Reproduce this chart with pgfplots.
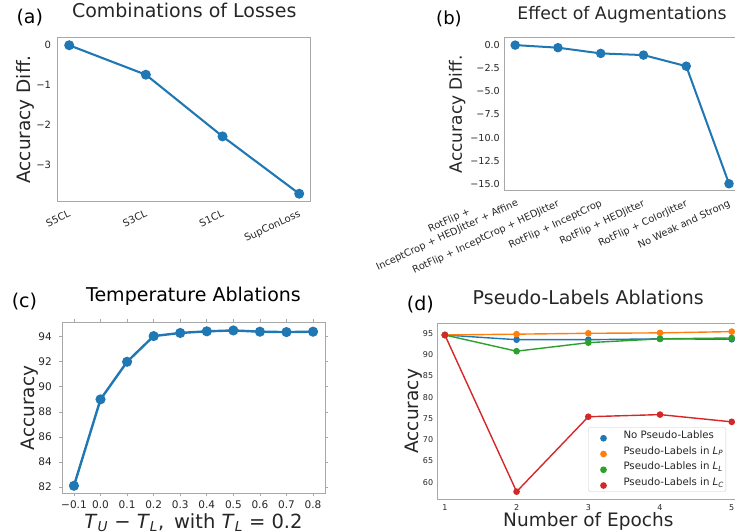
\documentclass[border=0pt]{standalone}
\usepackage{pgfplots}
\pgfplotsset{compat=1.18}
\usepackage{fontspec}
\setmainfont{DejaVu Sans}
\definecolor{tabblue}{HTML}{1F77B4}
\definecolor{taborange}{HTML}{FF7F0E}
\definecolor{tabgreen}{HTML}{2CA02C}
\definecolor{tabred}{HTML}{D62728}
\definecolor{spine}{HTML}{A8A8A8}
\definecolor{txt}{HTML}{262626}
\newcommand{\fs}[2]{\fontsize{#1}{#2}\selectfont}
\newcommand{\Ts}[1]{\textit{T}\textsubscript{\textit{#1}}}
\newcommand{\Ls}[1]{\textit{L}\textsubscript{\textit{#1}}}
\pgfplotstableread{
x y
0 0
1 -0.74
2 -2.29
3 -3.73
}\losses
\pgfplotstableread{
x y
0 0.0
1 -0.28
2 -0.90
3 -1.08
4 -2.28
5 -15.0
}\augs
\pgfplotstableread{
x y
-0.1 82.1
0.0 89.0
0.1 92.0
0.2 94.05
0.3 94.3
0.4 94.43
0.5 94.5
0.6 94.4
0.7 94.37
0.8 94.4
}\temps
\pgfplotstableread{
x nopl lp ll lc
1 94.6 94.6 94.6 94.6
2 93.5 94.8 90.8 57.8
3 93.5 95.0 92.8 75.4
4 93.7 95.1 93.7 75.9
5 93.6 95.4 93.9 74.2
}\pseudo
\pgfplotsset{
  panel/.style={
    scale only axis, axis line style={draw=spine, line width=0.9pt},
    major tick length=0pt, tick style={draw=none},
    ticklabel style={text=txt},
    label style={text=txt},
    title style={text=txt, font=\fs{19}{23}, at={(0.5,1)}, anchor=base},
    every axis plot/.append style={line width=2.1pt, mark=*, mark size=3.9pt,
      mark options={draw=white, line width=0.5pt}},
  },
}
\begin{document}
\begin{tikzpicture}
\useasboundingbox (0,0) rectangle (735pt,531pt);
\clip (0,0) rectangle (735pt,531pt);
% (a)
\begin{axis}[panel, at={(57.7pt,329.7pt)}, anchor=south west, width=253pt, height=163.6pt,
  xmin=-0.15, xmax=3.15, ymin=-3.92, ymax=0.19,
  xtick={0,1,2,3}, xticklabels={S5CL,S3CL,S1CL,SupConLoss},
  ytick={-3,-2,-1,0}, yticklabels={−3,−2,−1,0},
  yticklabel style={font=\fs{10}{12}, anchor=east, inner sep=0pt, xshift=-6.5pt},
  xticklabel style={font=\fs{10}{12}, inner sep=0pt, xshift=2pt, yshift=-15pt, rotate=25, anchor=base east},
  title={Combinations of Losses}, title style={yshift=13.7pt},
  ylabel={Accuracy Diff.}, ylabel style={font=\fs{18.5}{22}, at={(axis description cs:-0.1087,0.5)}, anchor=base},
]
\addplot[color=tabblue, mark options={fill=tabblue}] table[x=x,y=y] {\losses};
\end{axis}
% (b)
\begin{axis}[panel, at={(504.5pt,340.3pt)}, anchor=south west, width=235.2pt, height=153pt,
  xmin=-0.25, xmax=5.25, ymin=-15.75, ymax=0.8,
  xtick={0,1,2,3,4,5},
  xticklabels={{\shortstack{\hspace*{16pt}RotFlip +\\InceptCrop + HEDJitter + Affine}\kern-2pt},RotFlip + InceptCrop + HEDJitter,RotFlip + InceptCrop,RotFlip + HEDJitter,RotFlip + ColorJitter,No Weak and Strong},
  ytick={-15,-12.5,-10,-7.5,-5,-2.5,0}, yticklabels={−15.0,−12.5,−10.0,−7.5,−5.0,−2.5,0.0},
  yticklabel style={font=\fs{9.6}{12}, anchor=east, inner sep=0pt, xshift=-4.5pt},
  xticklabel style={font=\fs{9.8}{12}, inner sep=0pt, xshift=2pt, yshift=-15pt, rotate=25, anchor=base east},
  title={Effect of Augmentations}, title style={yshift=12.7pt, font=\fs{17.3}{21}},
  ylabel={Accuracy Diff.}, ylabel style={font=\fs{17}{21}, at={(axis description cs:-0.1815,0.5)}, anchor=base},
  every axis plot/.append style={mark size=3.7pt, line width=2pt},
]
\addplot[color=tabblue, mark options={fill=tabblue}] table[x=x,y=y] {\augs};
\end{axis}
% (c)
\begin{axis}[panel, at={(62pt,37.7pt)}, anchor=south west, width=263pt, height=171pt,
  xmin=-0.145, xmax=0.845, ymin=81.5, ymax=95.15,
  major tick length=3pt, tick align=outside, tick style={draw=spine, line width=0.7pt},
  xtick={-0.1,0,0.1,0.2,0.3,0.4,0.5,0.6,0.7,0.8},
  xticklabels={−0.1,0.0,0.1,0.2,0.3,0.4,0.5,0.6,0.7,0.8},
  ytick={82,84,86,88,90,92,94}, yticklabels={82,84,86,88,90,92,94},
  yticklabel style={font=\fs{10.5}{12}, anchor=east, inner sep=0pt, xshift=-7pt},
  xticklabel style={font=\fs{10.5}{12}, anchor=north, inner sep=0pt, yshift=-4.5pt},
  title={Temperature Ablations}, title style={yshift=15pt, text=black},
  ylabel={Accuracy}, ylabel style={font=\fs{18.5}{22}, at={(axis description cs:-0.1057,0.5)}, anchor=base},
  xlabel={\Ts{U} − \Ts{L},\enspace with \Ts{L} = 0.2}, xlabel style={font=\fs{19.5}{23}, at={(axis description cs:0.5,-0.2029)}, anchor=base},
  every axis plot/.append style={line width=2.4pt, mark size=3.8pt},
]
\addplot[color=tabblue, mark options={fill=tabblue}] table[x=x,y=y] {\temps};
\end{axis}
% (d)
\begin{axis}[panel, at={(437.7pt,31.7pt)}, anchor=south west, width=301.2pt, height=176pt,
  xmin=0.9, xmax=5.1, ymin=56, ymax=97.35,
  xtick={1,2,3,4,5}, xticklabels={1,2,3,4,5},
  ytick={60,65,70,75,80,85,90,95}, yticklabels={60,65,70,75,80,85,90,95},
  yticklabel style={font=\fs{8}{10}, anchor=east, inner sep=0pt, xshift=-4.4pt},
  xticklabel style={font=\fs{8}{10}, anchor=north, inner sep=0pt, yshift=-5pt},
  title={Pseudo-Labels Ablations}, title style={yshift=13.3pt},
  ylabel={Accuracy}, ylabel style={font=\fs{18.5}{22}, at={(axis description cs:-0.0637,0.5)}, anchor=base},
  xlabel={Number of Epochs}, xlabel style={font=\fs{18.5}{22}, at={(axis description cs:0.5,-0.156)}, anchor=base},
  every axis plot/.append style={line width=1.4pt, mark size=2.6pt},
  legend style={at={(axis description cs:0.5,0.409)}, anchor=north west, draw=black!20, rounded corners=2pt,
    fill=white, font=\fs{10.2}{12}, text=txt, inner xsep=2pt, inner ysep=3pt, row sep=5pt,
    nodes={inner sep=0pt, anchor=base west}},
  legend cell align=left,
  legend image code/.code={\path[draw=none, fill=none] (0pt,-3pt) -- (33pt,3pt); \draw[#1, only marks] plot coordinates {(13pt,0pt)};},
]
\addplot[color=tabblue, mark options={fill=tabblue}] table[x=x,y=nopl] {\pseudo};
\addlegendentry{No Pseudo-Lables}
\addplot[color=taborange, mark options={fill=taborange}] table[x=x,y=lp] {\pseudo};
\addlegendentry{Pseudo-Labels in \Ls{P}}
\addplot[color=tabgreen, mark options={fill=tabgreen}] table[x=x,y=ll] {\pseudo};
\addlegendentry{Pseudo-Lables in \Ls{L}}
\addplot[color=tabred, mark options={fill=tabred}] table[x=x,y=lc] {\pseudo};
\addlegendentry{Pseudo-Labels in \Ls{C}}
\end{axis}
\node[anchor=base west, font=\fs{19}{23}, text=black] at (13pt,507pt) {(a)};
\node[anchor=base west, font=\fs{18}{22}, text=black] at (432.7pt,506pt) {(b)};
\node[anchor=base west, font=\fs{19}{23}, text=black] at (8.3pt,223.7pt) {(c)};
\node[anchor=base west, font=\fs{19}{23}, text=black] at (403.3pt,221pt) {(d)};
\end{tikzpicture}
\end{document}
